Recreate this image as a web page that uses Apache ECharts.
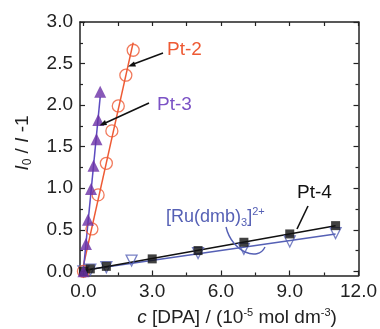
<!DOCTYPE html>
<html><head><meta charset="utf-8">
<script src="https://cdn.jsdelivr.net/npm/echarts@6/dist/echarts.min.js"></script>
<style>html,body{margin:0;padding:0;background:#fff}#c{width:380px;height:329px}</style>
</head><body><div id="c"></div><script>
// ---- data ----
const pt2X = [0, 0.37, 0.64, 1.0, 1.24, 1.52, 1.85, 2.17];
const pt2Y = [0, 0.51, 0.92, 1.30, 1.69, 1.99, 2.36, 2.66];
const pt3X = [0, 0.11, 0.2, 0.33, 0.44, 0.57, 0.65, 0.73];
const pt3Y = [0, 0.33, 0.62, 0.99, 1.27, 1.59, 1.82, 2.16];
const pt4X = [0, 0.3, 1, 3, 5, 7, 9, 11];
const pt4Y = [0, 0.03, 0.06, 0.15, 0.25, 0.35, 0.45, 0.55];
const ruX = [0, 0.3, 1, 2.1, 5, 7, 9, 11];
const ruY = [0, 0.02, 0.05, 0.13, 0.22, 0.27, 0.36, 0.46];
const xMajor = [0, 3, 6, 9, 12];
const xMinor = [1.5, 4.5, 7.5, 10.5];
const yMajor = [0, 0.5, 1, 1.5, 2, 2.5, 3];
const yMinor = [0.25, 0.75, 1.25, 1.75, 2.25, 2.75];

const FONT = '"Liberation Sans", Arial, sans-serif';
const pairs = (xs, ys) => xs.map((x, i) => [x, ys[i]]);
function fit(xs, ys) {
  const n = xs.length;
  const mx = xs.reduce((a, b) => a + b, 0) / n, my = ys.reduce((a, b) => a + b, 0) / n;
  let sxy = 0, sxx = 0;
  xs.forEach((x, i) => { sxy += (x - mx) * (ys[i] - my); sxx += (x - mx) * (x - mx); });
  const b = sxy / sxx, a = my - b * mx;
  const xe = Math.max(...xs);
  return [[0, Math.max(0, a)], [xe, a + b * xe]];
}

const axLine = {show: true, onZero: false, lineStyle: {color: '#222', width: 1.5}};
function mkX(pos, vals, len, line, label) {
  return {type: 'value', position: pos, min: -0.15, max: 12,
    axisLine: line ? axLine : {show: false, onZero: false},
    axisTick: {show: true, inside: true, length: len, customValues: vals, lineStyle: {color: '#222', width: 1.2}},
    axisLabel: label ? {show: true, customValues: vals, formatter: v => v.toFixed(1), fontFamily: FONT, fontSize: 19, color: '#222', margin: 7} : {show: false},
    splitLine: {show: false}};
}
function mkY(pos, vals, len, line, label) {
  return {type: 'value', position: pos, min: -0.05, max: 3,
    axisLine: line ? axLine : {show: false, onZero: false},
    axisTick: {show: true, inside: true, length: len, customValues: vals, lineStyle: {color: '#222', width: 1.2}},
    axisLabel: label ? {show: true, customValues: vals, formatter: v => v.toFixed(1), fontFamily: FONT, fontSize: 19, color: '#222', margin: 7} : {show: false},
    splitLine: {show: false}};
}

const RED = '#ee5a34', PURP = '#6a2fa6', PLINE = '#5d4cc0', BLUE = '#5560b5';

const chart = echarts.init(document.getElementById('c'), null, {renderer: 'canvas'});
chart.setOption({
  animation: false,
  backgroundColor: '#fff',
  grid: {left: 80, top: 22, width: 281, height: 253.5, containLabel: false},
  xAxis: [mkX('bottom', xMajor, 5, true, true), mkX('bottom', xMinor, 3, false, false),
          mkX('top', xMajor.concat(xMinor), 4, true, false)],
  yAxis: [mkY('left', yMajor, 5, true, true), mkY('left', yMinor, 3, false, false),
          mkY('right', yMajor, 5, true, false), mkY('right', yMinor, 3, false, false)],
  series: [
    {type: 'line', data: fit(ruX, ruY), symbol: 'none', lineStyle: {color: BLUE, width: 1.5}, z: 2},
    {type: 'line', data: fit(pt4X, pt4Y), symbol: 'none', lineStyle: {color: '#111', width: 1.5}, z: 2},
    {type: 'line', data: fit(pt2X, pt2Y), symbol: 'none', lineStyle: {color: RED, width: 1.5}, z: 2},
    {type: 'line', data: fit(pt3X, pt3Y), symbol: 'none', lineStyle: {color: PLINE, width: 1.5}, z: 2},
    {type: 'scatter', data: pairs(ruX, ruY), symbol: 'triangle', symbolRotate: 180, symbolSize: 11,
      itemStyle: {color: 'rgba(255,255,255,0)', borderColor: BLUE, borderWidth: 1.3}, z: 3},
    {type: 'scatter', data: pairs(pt4X, pt4Y), symbol: 'rect', symbolSize: 9,
      itemStyle: {color: '#111'}, z: 4},
    {type: 'scatter', data: pairs(pt2X, pt2Y), symbol: 'circle', symbolSize: 12,
      itemStyle: {color: 'rgba(255,255,255,0)', borderColor: RED, borderWidth: 1.3}, z: 3},
    {type: 'scatter', data: pairs(pt3X, pt3Y), symbol: 'triangle', symbolSize: 12,
      itemStyle: {color: PURP}, z: 4}
  ],
  graphic: [
    // axis titles
    {type: 'text', x: 237, y: 318, z: 10, style: {
      text: '{i|c} [DPA] / (10{sup|-5} mol dm{sup|-3})', fill: '#222', font: '19px ' + FONT,
      align: 'center', verticalAlign: 'middle',
      rich: {i: {fontStyle: 'italic', fontSize: 19, fontFamily: FONT, lineHeight: 22},
             sup: {fontSize: 11, fontFamily: FONT, verticalAlign: 'top', lineHeight: 22}}}},
    {type: 'text', x: 23, y: 143, rotation: Math.PI / 2, z: 10, style: {
      text: '{i|I}{sub|0} / {i|I} -1', fill: '#222', font: '19px ' + FONT,
      align: 'center', verticalAlign: 'middle',
      rich: {i: {fontStyle: 'italic', fontSize: 19, fontFamily: FONT, lineHeight: 22},
             sub: {fontSize: 12, fontFamily: FONT, verticalAlign: 'bottom', lineHeight: 22}}}},
    // annotations
    {type: 'text', x: 167, y: 50, z: 10, style: {text: 'Pt-2', fill: RED, font: '19px ' + FONT, verticalAlign: 'middle'}},
    {type: 'text', x: 157, y: 105, z: 10, style: {text: 'Pt-3', fill: '#7b52c5', font: '19px ' + FONT, verticalAlign: 'middle'}},
    {type: 'text', x: 297, y: 193, z: 10, style: {text: 'Pt-4', fill: '#111', font: '19px ' + FONT, verticalAlign: 'middle'}},
    {type: 'text', x: 166, y: 217, z: 10, style: {
      text: '[Ru(dmb){sub|3}]{sup|2+}', fill: BLUE, font: '18px ' + FONT, verticalAlign: 'middle',
      rich: {sub: {fontSize: 11, fontFamily: FONT, verticalAlign: 'bottom', lineHeight: 22, fill: BLUE},
             sup: {fontSize: 11, fontFamily: FONT, verticalAlign: 'top', lineHeight: 22, fill: BLUE}}}},
    {type: 'line', z: 10, shape: {x1: 163, y1: 53, x2: 131, y2: 65}, style: {stroke: '#111', lineWidth: 1.6}},
    {type: 'polygon', z: 10, shape: {points: [[128, 66.5], [134, 61.5], [136, 66.5]]}, style: {fill: '#111'}},
    {type: 'line', z: 10, shape: {x1: 149, y1: 103, x2: 103, y2: 124}, style: {stroke: '#111', lineWidth: 1.6}},
    {type: 'polygon', z: 10, shape: {points: [[99.5, 125.5], [105, 120], [107, 125]]}, style: {fill: '#111'}},
    {type: 'line', z: 10, shape: {x1: 308, y1: 206, x2: 297, y2: 229}, style: {stroke: '#111', lineWidth: 1.6}},
    {type: 'bezierCurve', z: 10, shape: {x1: 226, y1: 227, cpx1: 232, cpy1: 252, cpx2: 258, cpy2: 262, x2: 265, y2: 247},
      style: {stroke: BLUE, lineWidth: 1.4, fill: null}}
  ]
});
</script></body></html>
